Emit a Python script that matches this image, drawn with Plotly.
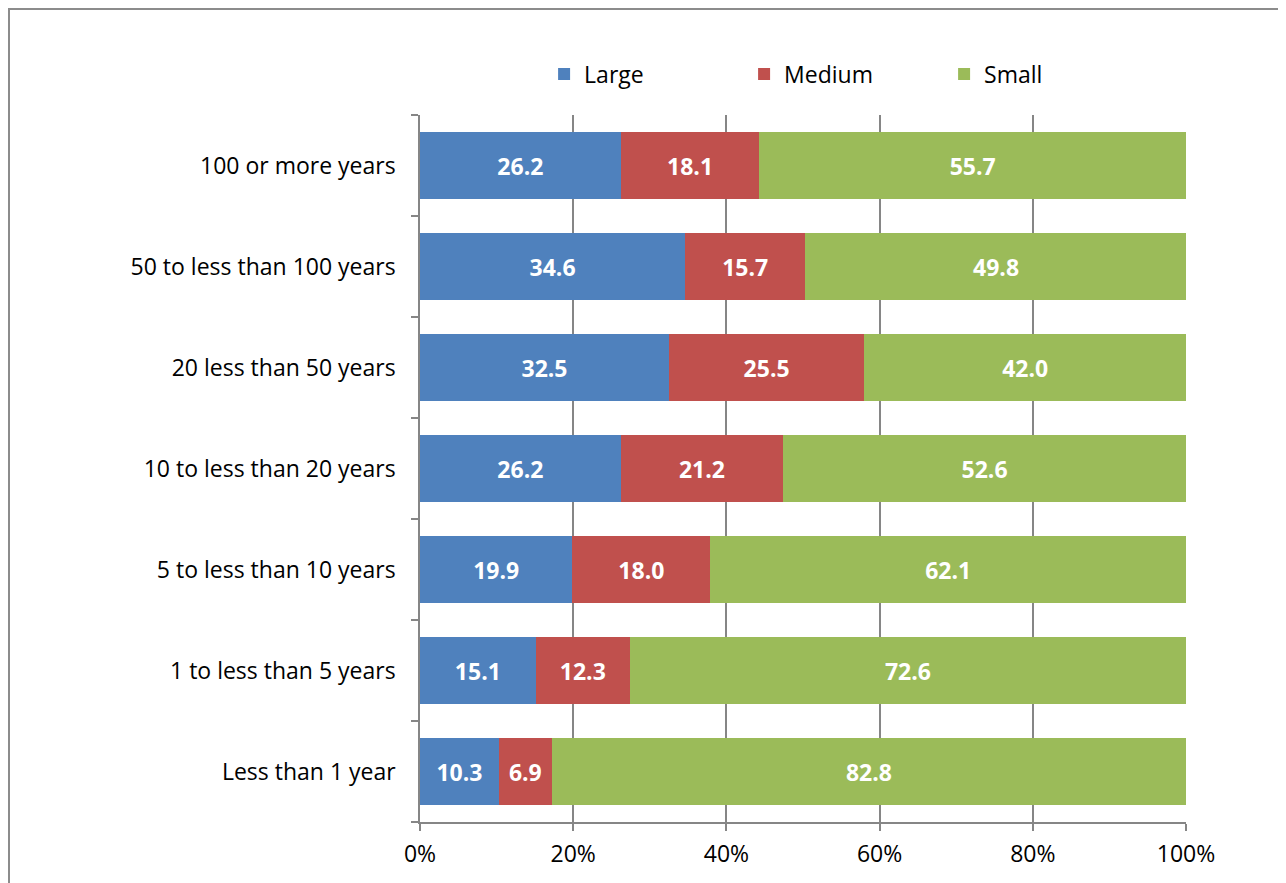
import plotly.graph_objects as go

categories = ["Less than 1 year", "1 to less than 5 years", "5 to less than 10 years",
              "10 to less than 20 years", "20 less than 50 years",
              "50 to less than 100 years", "100 or more years"]
large = [10.3, 15.1, 19.9, 26.2, 32.5, 34.6, 26.2]
medium = [6.9, 12.3, 18.0, 21.2, 25.5, 15.7, 18.1]
small = [82.8, 72.6, 62.1, 52.6, 42.0, 49.8, 55.7]

series = [("Large", large, "#4F81BD"),
          ("Medium", medium, "#C0504D"),
          ("Small", small, "#9BBB59")]

FONT = "Open Sans"

fig = go.Figure()
for name, vals, color in series:
    fig.add_trace(go.Bar(
        y=categories, x=vals, name=name, orientation="h",
        marker=dict(color=color, line=dict(width=0)),
        text=[f"{v:.1f}" for v in vals], textposition="inside",
        insidetextanchor="middle",
        textfont=dict(family=FONT, size=23, color="white", weight="bold"),
        hoverinfo="x+y+name",
    ))

# page body adds ~8px offset, so figure is 8px smaller
fig.update_layout(
    barmode="stack", bargap=0.345,
    width=1278, height=875,
    margin=dict(l=412, r=100, t=107, b=61),
    paper_bgcolor="white", plot_bgcolor="white",
    font=dict(family=FONT, size=23, color="black"),
    uniformtext=dict(mode="show", minsize=10),
    legend=dict(orientation="h", x=0.162, y=1.058, xanchor="left", yanchor="middle",
                entrywidth=155, font=dict(size=23), traceorder="normal"),
    showlegend=True,
)
fig.update_xaxes(range=[0, 100], tickvals=[0, 20, 40, 60, 80, 100],
                 ticktext=["0%", "20%", "40%", "60%", "80%", "100%"],
                 showgrid=True, gridcolor="#868686", gridwidth=1.5,
                 showline=True, linecolor="#868686", linewidth=1.5,
                 ticks="outside", ticklen=7, tickcolor="#868686", tickwidth=1.5,
                 ticklabelstandoff=4, zeroline=False, fixedrange=True)
fig.update_yaxes(showline=True, linecolor="#868686", linewidth=1.5,
                 ticks="outside", tickson="boundaries", ticklen=7,
                 tickcolor="#868686", tickwidth=1.5, ticklabelstandoff=18,
                 showgrid=False, fixedrange=True)

# chart border (left and top edges sit at the figure edge)
fig.add_shape(type="rect", xref="paper", yref="paper",
              x0=(1 - 412) / 766, x1=2, y0=-1, y1=(107 - 1) / 707 + 1,
              line=dict(color="#8c8c8c", width=2), fillcolor="rgba(0,0,0,0)", layer="below")

fig.write_html("out.html")
